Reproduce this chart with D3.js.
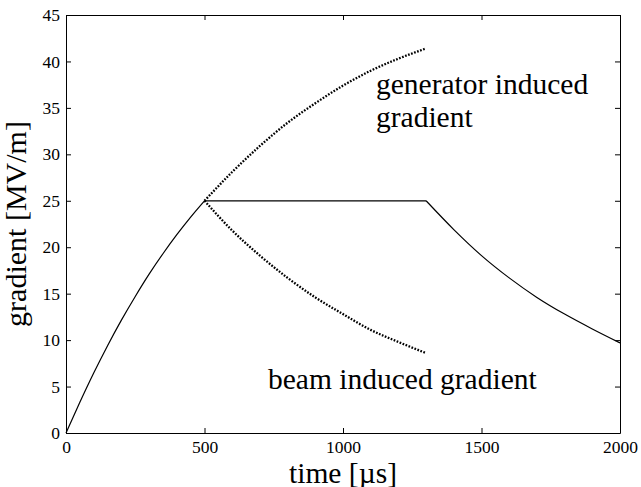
<!DOCTYPE html>
<html>
<head>
<meta charset="utf-8">
<script src="https://cdn.jsdelivr.net/npm/d3@7"></script>
<style>
  html, body { margin: 0; padding: 0; background: #fff; }
  svg { display: block; }
</style>
</head>
<body>
<svg id="chart" width="641" height="487"></svg>
<script>
// Cavity gradient during fill, beam and decay (time in µs, gradient in MV/m)
const fillTime = [0, 50, 100, 150, 200, 250, 300, 350, 400, 450, 500];
const fillGrad = [0, 3.3, 6.45, 9.4, 12.15, 14.7, 17.1, 19.3, 21.35, 23.25, 25.0];

const flatTime = [500, 1300];
const flatGrad = [25, 25];

const decayTime = [1300, 1400, 1500, 1600, 1700, 1800, 1900, 2000];
const decayGrad = [25, 21.9, 19.1, 16.7, 14.6, 12.8, 11.2, 9.7];

const genTime = [500, 600, 700, 800, 900, 1000, 1100, 1200, 1300];
const genGrad = [25, 28.1, 30.9, 33.4, 35.5, 37.4, 39.0, 40.3, 41.4];

const beamTime = [500, 600, 700, 800, 900, 1000, 1100, 1200, 1300];
const beamGrad = [25, 21.8, 19.1, 16.7, 14.6, 12.8, 11.1, 9.8, 8.6];

const xTicks = [0, 500, 1000, 1500, 2000];
const yTicks = [0, 5, 10, 15, 20, 25, 30, 35, 40, 45];

const serif = "Liberation Serif, Times New Roman, serif";

const svg = d3.select("#chart");
const plotLeft = 66, plotRight = 620, plotTop = 15, plotBottom = 433;

const x = d3.scaleLinear().domain([0, 2000]).range([plotLeft, plotRight]);
const y = d3.scaleLinear().domain([0, 45]).range([plotBottom, plotTop]);

const pts = (ts, vs) => ts.map((t, i) => [t, vs[i]]);
const line = d3.line().x(d => x(d[0])).y(d => y(d[1])).curve(d3.curveMonotoneX);

// axes with inward ticks on all four sides
const tickLen = 5;
const fmt = d3.format("d");
svg.append("g").attr("transform", `translate(0,${plotBottom})`)
  .call(d3.axisBottom(x).tickValues(xTicks).tickFormat(fmt).tickSizeInner(-tickLen).tickSizeOuter(0).tickPadding(8))
  .call(g => g.selectAll("text").attr("font-size", 17.5).attr("dy", "0.71em"));
svg.append("g").attr("transform", `translate(0,${plotTop})`)
  .call(d3.axisTop(x).tickValues(xTicks).tickSizeInner(-tickLen).tickSizeOuter(0).tickFormat(""));
svg.append("g").attr("transform", `translate(${plotLeft},0)`)
  .call(d3.axisLeft(y).tickValues(yTicks).tickFormat(fmt).tickSizeInner(-tickLen).tickSizeOuter(0).tickPadding(6))
  .call(g => g.selectAll("text").attr("font-size", 17.5));
svg.append("g").attr("transform", `translate(${plotRight},0)`)
  .call(d3.axisRight(y).tickValues(yTicks).tickSizeInner(-tickLen).tickSizeOuter(0).tickFormat(""));
svg.selectAll(".domain").attr("stroke", "#000").attr("stroke-width", 1);
svg.selectAll(".tick line").attr("stroke", "#000");
svg.selectAll("g").style("font-family", serif);

// solid cavity gradient
[pts(fillTime, fillGrad), pts(flatTime, flatGrad), pts(decayTime, decayGrad)].forEach(d => {
  svg.append("path").datum(d).attr("d", line)
    .attr("fill", "none").attr("stroke", "#000").attr("stroke-width", 1.2);
});

// dotted generator- and beam-induced components
[pts(genTime, genGrad), pts(beamTime, beamGrad)].forEach(d => {
  svg.append("path").datum(d).attr("d", line)
    .attr("fill", "none").attr("stroke", "#000").attr("stroke-width", 2.3)
    .attr("stroke-dasharray", "1.7,1.5");
});

const label = (xp, yp, size, str) => svg.append("text")
  .attr("x", xp).attr("y", yp).attr("font-size", size)
  .style("font-family", serif).attr("fill", "#000").text(str);

// annotations
label(376, 94, 29.5, "generator induced");
label(376, 127, 29.5, "gradient");
label(268, 389, 29.5, "beam induced gradient");

// axis titles
label((plotLeft + plotRight) / 2, 482.5, 29.5, "time [µs]").attr("text-anchor", "middle");
label(0, 0, 30, "gradient [MV/m]").attr("text-anchor", "middle")
  .attr("transform", `translate(26,${(plotTop + plotBottom) / 2}) rotate(-90)`);
</script>
</body>
</html>
